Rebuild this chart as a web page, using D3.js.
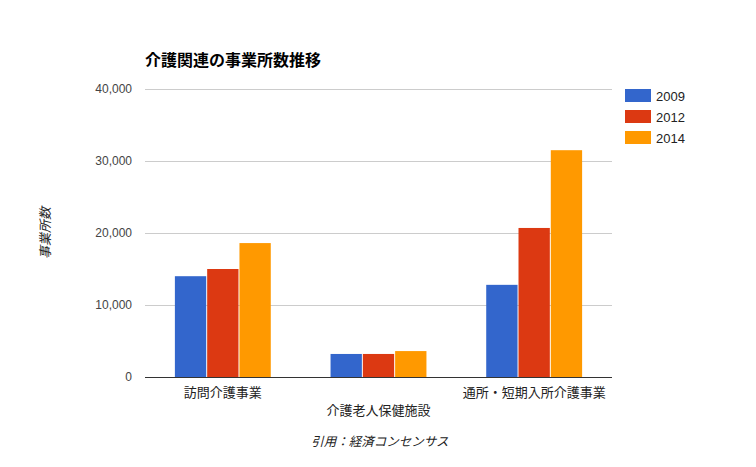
<!DOCTYPE html>
<html><head><meta charset="utf-8">
<script src="https://cdn.jsdelivr.net/npm/d3@7"></script>
<style>
body{margin:0;background:#fff;}
text{font-family:Arial,"Liberation Sans","Noto Sans CJK JP",sans-serif;}
</style></head>
<body><svg id="c" width="756" height="467"></svg>
<script>
const categories = ["訪問介護事業","介護老人保健施設","通所・短期入所介護事業"];
const seriesNames = ["2009","2012","2014"];
const values2009 = [14000, 3200, 12800];
const values2012 = [15000, 3200, 20700];
const values2014 = [18600, 3600, 31500];
const yTicks = [0,10000,20000,30000,40000];
const colors = ["#3366cc","#dc3912","#ff9900"];
const series = [values2009, values2012, values2014];

const svg = d3.select("#c");
const m = {l:145, r:612, t:89, b:377};
const x = d3.scaleBand().domain(categories).range([m.l, m.r]).paddingInner(0.384).paddingOuter(0.192);
const xs = d3.scaleBand().domain(seriesNames).range([0, x.bandwidth()]).paddingInner(0.03);
const y = d3.scaleLinear().domain([0,40000]).range([m.b, m.t]);

svg.append("text").attr("x",145).attr("y",66).attr("font-size",16).attr("font-weight","bold").attr("fill","#000").text("介護関連の事業所数推移");

const yAxis = d3.axisLeft(y).tickValues(yTicks).tickSize(0).tickPadding(13).tickFormat(d3.format(","));
const ga = svg.append("g").attr("transform",`translate(${m.l},0)`).call(yAxis);
ga.select(".domain").remove();
ga.selectAll("text").attr("font-size",12).attr("fill","#444").attr("font-family","Arial,'Liberation Sans',sans-serif");

svg.append("g").selectAll("line").data(yTicks.filter(d=>d>0)).join("line")
  .attr("x1",m.l).attr("x2",m.r).attr("y1",d=>y(d)+0.5).attr("y2",d=>y(d)+0.5)
  .attr("stroke","#cccccc").attr("stroke-width",1);

const g = svg.append("g");
seriesNames.forEach((s,si)=>{
  g.selectAll(null).data(categories).join("rect")
    .attr("x",c=>x(c)+xs(s)).attr("width",xs.bandwidth())
    .attr("y",(c,i)=>y(series[si][i])).attr("height",(c,i)=>y(0)-y(series[si][i]))
    .attr("fill",colors[si]);
});

svg.append("line").attr("x1",m.l).attr("x2",m.r).attr("y1",y(0)+0.5).attr("y2",y(0)+0.5).attr("stroke","#333").attr("stroke-width",1);

const xAxis = d3.axisBottom(x).tickSize(0).tickPadding(0);
const gx = svg.append("g").attr("transform",`translate(0,${m.b})`).call(xAxis);
gx.select(".domain").remove();
gx.selectAll("text").attr("font-size",13).attr("fill","#222").attr("dy",null)
  .attr("y",(d,i)=> i%2===0 ? 20 : 38).attr("font-family","'Noto Sans CJK JP',sans-serif");

svg.append("text").attr("transform","translate(50,233) rotate(-90)").attr("text-anchor","middle")
  .attr("font-size",13).attr("font-style","italic").attr("fill","#222").attr("font-family","'Noto Sans CJK JP',sans-serif").text("事業所数");

svg.append("text").attr("x",380).attr("y",446).attr("text-anchor","middle")
  .attr("font-size",12.5).attr("font-style","italic").attr("fill","#222").attr("font-family","'Noto Sans CJK JP',sans-serif").text("引用：経済コンセンサス");

const lg = svg.append("g").selectAll("g").data(seriesNames).join("g")
  .attr("transform",(d,i)=>`translate(625,${89+i*21})`);
lg.append("rect").attr("width",26).attr("height",13).attr("fill",(d,i)=>colors[i]);
lg.append("text").attr("x",31).attr("y",11.5).attr("font-size",13).attr("fill","#222").text(d=>d);
</script></body></html>
